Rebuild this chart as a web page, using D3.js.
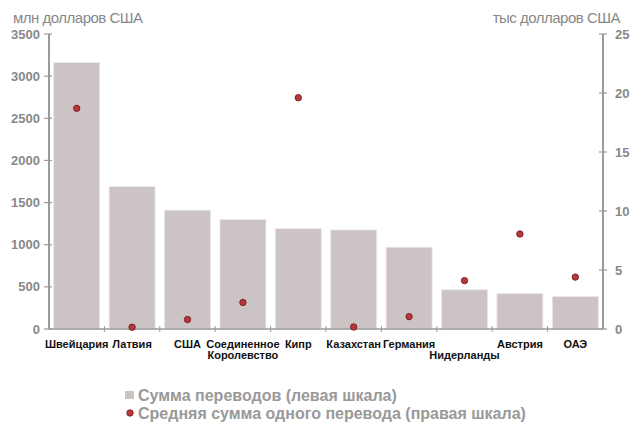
<!DOCTYPE html>
<html lang="ru">
<head>
<meta charset="utf-8">
<title>Переводы</title>
<script src="https://d3js.org/d3.v7.min.js"></script>
<style>
  body { margin: 0; background: #fff; }
  text { font-family: "Liberation Sans", Arial, sans-serif; }
</style>
</head>
<body>
<svg id="chart" width="634" height="423"></svg>
<script>
// данные
var countries = ["Швейцария", "Латвия", "США", "Соединенное Королевство", "Кипр",
                 "Казахстан", "Германия", "Нидерланды", "Австрия", "ОАЭ"];
var labelLines = [["Швейцария"], ["Латвия"], ["США"], ["Соединенное", "Королевство"], ["Кипр"],
                  ["Казахстан"], ["Германия"], ["", "Нидерланды"], ["Австрия"], ["ОАЭ"]];
var totals = [3160, 1690, 1410, 1300, 1190, 1175, 970, 465, 420, 385];   // млн долл.
var averages = [18.7, 0.15, 0.8, 2.25, 19.6, 0.17, 1.05, 4.1, 8.05, 4.4]; // тыс долл.
var leftTicks = [0, 500, 1000, 1500, 2000, 2500, 3000, 3500];
var rightTicks = [0, 5, 10, 15, 20, 25];

var svg = d3.select("#chart");
var x0 = 49, x1 = 603, yTop = 34, yBot = 329;
var axisColor = "#9a9a9a";

var x = d3.scaleBand().domain(countries).range([x0, x1]).paddingInner(0.17).paddingOuter(0.085);
var yL = d3.scaleLinear().domain([0, 3500]).range([yBot, yTop]);
var yR = d3.scaleLinear().domain([0, 25]).range([yBot, yTop]);

// столбцы
svg.selectAll(".bar")
  .data(countries)
  .enter().append("rect")
  .attr("class", "bar")
  .attr("x", function(d){ return x(d); })
  .attr("width", x.bandwidth())
  .attr("y", function(d, i){ return yL(totals[i]); })
  .attr("height", function(d, i){ return yBot - yL(totals[i]); })
  .style("fill", "#cbc3c4")
  .style("stroke", "#ece8e8")
  .style("stroke-width", 0.8);

// левая ось
var gl = svg.append("g");
gl.append("line").attr("x1", x0).attr("x2", x0).attr("y1", yTop).attr("y2", yBot)
  .style("stroke", axisColor).style("stroke-width", 2);
gl.selectAll(".t").data(leftTicks).enter().append("line")
  .attr("x1", x0 - 5).attr("x2", x0 + 3)
  .attr("y1", function(d){ return yL(d); }).attr("y2", function(d){ return yL(d); })
  .style("stroke", axisColor).style("stroke-width", 1.2);
gl.selectAll("text").data(leftTicks).enter().append("text")
  .attr("x", x0 - 9).attr("y", function(d){ return yL(d); })
  .attr("text-anchor", "end").attr("dominant-baseline", "central")
  .style("font-size", "13px").style("font-weight", "bold").style("fill", "#888")
  .text(function(d){ return d; });

// правая ось
var gr = svg.append("g");
gr.append("line").attr("x1", x1).attr("x2", x1).attr("y1", yTop).attr("y2", yBot)
  .style("stroke", axisColor).style("stroke-width", 2);
gr.selectAll(".t").data(rightTicks).enter().append("line")
  .attr("x1", x1 - 4).attr("x2", x1 + 4)
  .attr("y1", function(d){ return yR(d); }).attr("y2", function(d){ return yR(d); })
  .style("stroke", axisColor).style("stroke-width", 1.2);
gr.selectAll("text").data(rightTicks).enter().append("text")
  .attr("x", x1 + 12).attr("y", function(d){ return yR(d); })
  .attr("text-anchor", "start").attr("dominant-baseline", "central")
  .style("font-size", "13px").style("font-weight", "bold").style("fill", "#888")
  .text(function(d){ return d; });

// нижняя ось
svg.append("line").attr("x1", x0).attr("x2", x1).attr("y1", yBot).attr("y2", yBot)
  .style("stroke", axisColor).style("stroke-width", 1.5);
var step = x.step();
svg.selectAll(".xt").data(countries.slice(1)).enter().append("line")
  .attr("x1", function(d){ return x(d) - step * 0.085; })
  .attr("x2", function(d){ return x(d) - step * 0.085; })
  .attr("y1", yBot - 3).attr("y2", yBot + 3)
  .style("stroke", axisColor).style("stroke-width", 1);

var xl = svg.selectAll(".xl").data(countries).enter().append("text")
  .attr("text-anchor", "middle")
  .style("font-size", "11px").style("font-weight", "bold").style("fill", "#111");
xl.each(function(d, i){
  var t = d3.select(this);
  labelLines[i].forEach(function(line, k){
    t.append("tspan").attr("x", x(d) + x.bandwidth() / 2).attr("y", 348 + k * 11).text(line);
  });
});

// точки
svg.selectAll(".dot").data(countries).enter().append("circle")
  .attr("cx", function(d){ return x(d) + x.bandwidth() / 2; })
  .attr("cy", function(d, i){ return yR(averages[i]); })
  .attr("r", 3.2)
  .style("fill", "#b5393c").style("stroke", "#7a1a1c").style("stroke-width", 0.9);

// подписи осей
svg.append("text").attr("x", 13).attr("y", 23)
  .style("font-size", "15px").style("fill", "#888").style("letter-spacing", "-0.5px")
  .text("млн долларов США");
svg.append("text").attr("x", 620).attr("y", 23).attr("text-anchor", "end")
  .style("font-size", "15px").style("fill", "#888").style("letter-spacing", "-0.5px")
  .text("тыс долларов США");

// легенда
svg.append("rect").attr("x", 125).attr("y", 391).attr("width", 9).attr("height", 8)
  .style("fill", "#cbc3c4");
svg.append("text").attr("x", 138).attr("y", 401)
  .style("font-size", "16px").style("font-weight", "bold").style("fill", "#999")
  .text("Сумма переводов (левая шкала)");
svg.append("circle").attr("cx", 130).attr("cy", 413).attr("r", 3.2)
  .style("fill", "#b5393c").style("stroke", "#7a1a1c").style("stroke-width", 0.9);
svg.append("text").attr("x", 138).attr("y", 419)
  .style("font-size", "16px").style("font-weight", "bold").style("fill", "#999")
  .text("Средняя сумма одного перевода (правая шкала)");
</script>
</body>
</html>
